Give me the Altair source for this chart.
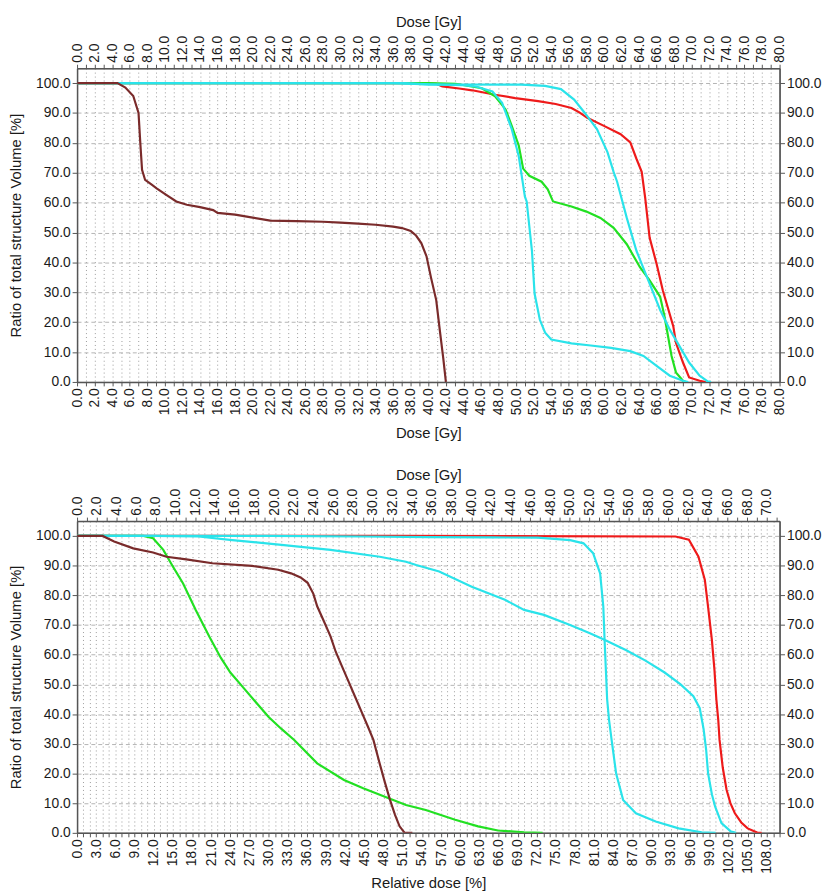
import altair as alt
import pandas as pd

# ---------------- Top panel: dose in Gy ----------------
brown_top_x = [0, 4.6, 5.5, 6.4, 7.0, 7.2, 7.4, 7.75, 8.5, 9.1, 10.2, 11.3, 12.5, 14, 15.5, 16, 18, 20, 22, 25, 28, 30, 32, 34, 36, 37, 38, 38.6, 39.2, 39.8, 40.3, 40.9, 41.3, 41.7, 42.0]
brown_top_y = [100, 100, 98.5, 95.7, 90, 80, 71, 67.6, 66, 64.7, 62.5, 60.4, 59.3, 58.5, 57.5, 56.6, 56, 55, 54, 53.8, 53.6, 53.3, 53, 52.6, 52, 51.5, 50.5, 49, 46.5, 42, 35, 27.4, 17.5, 8, 0]

red_top_x = [0, 38.5, 40.9, 41.6, 43.5, 45.0, 47.6, 49.9, 52.5, 54.5, 56.3, 57.2, 58.1, 60.0, 61.9, 63.0, 63.7, 64.3, 64.7, 65.2, 66.0, 66.7, 67.9, 68.2, 69.0, 69.7, 70.9, 71.6]
red_top_y = [100, 100, 99.8, 98.9, 98.2, 97.6, 96.1, 95.0, 94.0, 93.0, 91.7, 90.2, 88.4, 85.7, 82.9, 80.2, 74.7, 70.3, 61.5, 48.3, 39.5, 30.7, 18.6, 13.1, 6.5, 1.5, 0.4, 0]

green_top_x = [0, 40, 43.1, 46.1, 47.6, 48.8, 49.5, 50.3, 50.8, 51.5, 52.9, 53.6, 54.2, 56.3, 58, 59.6, 61.1, 62.6, 64.1, 65.2, 66.4, 66.9, 67.3, 67.7, 68.2, 69.0, 69.3]
green_top_y = [100, 100, 99.8, 98.3, 95.6, 91.2, 85.7, 79.1, 71.4, 69, 67, 64.5, 60.4, 58.7, 57, 54.9, 51.6, 46.1, 38.4, 34, 28.5, 21.9, 15.3, 8.7, 3.2, 0.4, 0]

cyan1_top_x = [0, 37, 40, 44, 45.5, 47.3, 48.4, 49.5, 50.3, 51.0, 51.2, 51.8, 52.1, 52.7, 53.3, 54.0, 56.3, 58.5, 60.8, 63.0, 64.5, 66.0, 67.5, 69.0, 69.6]
cyan1_top_y = [100, 100, 99.6, 99.3, 98.8, 97.2, 93.4, 84.6, 75.5, 62, 60.4, 43.9, 29.6, 20.8, 16.5, 14.2, 12.9, 12.2, 11.4, 10.3, 8.7, 5.4, 2.1, 0.4, 0]

cyan2_top_x = [0, 36, 40, 50.6, 53.3, 55.1, 56.6, 57.8, 59.2, 60.4, 61.1, 61.5, 62.1, 62.6, 63.7, 65.2, 66.4, 67.5, 68.6, 69.7, 70.9, 71.8, 72.2]
cyan2_top_y = [100, 100, 99.6, 99.5, 99.1, 98.0, 94.5, 90.1, 84.6, 76.9, 70.3, 67, 60.4, 54.9, 43.9, 32.9, 24.1, 17.5, 12, 6.5, 2.1, 0.2, 0]

# ---------------- Bottom panel: relative dose in % ----------------
brown_bot_x = [0, 4.0, 5.8, 8.8, 11.9, 14.0, 17.1, 21.2, 27.4, 31.5, 33.5, 35.0, 36.1, 37.0, 37.6, 38.7, 39.7, 40.5, 41.5, 42.5, 43.5, 44.5, 45.5, 46.4, 47.3, 48.2, 49.0, 49.8, 50.5, 51.3, 52.5]
brown_bot_y = [100, 100, 98.1, 95.8, 94.4, 93, 92.1, 90.8, 89.9, 88.6, 87.4, 86, 84.2, 80.5, 76.3, 71, 66.1, 61, 56, 51, 46, 41, 36, 31.3, 24, 17, 11.1, 6, 2.2, 0, 0]

green_bot_x = [0, 10.4, 11.9, 13.5, 15.0, 16.6, 18.6, 20.7, 22.5, 24, 26, 28, 30, 32, 34.0, 37.6, 41.8, 44.8, 48.9, 51.5, 54.6, 59.2, 62.8, 65.9, 70.0, 72.9]
green_bot_y = [100, 100, 99.2, 95.3, 89.7, 84, 75, 66.1, 59, 54, 49, 44, 39, 35, 31.3, 23.4, 17.8, 15, 11.6, 9.4, 7.7, 4.4, 2.2, 0.8, 0.2, 0]

cyanA_bot_x = [0, 12, 19, 24.3, 32, 39.7, 47.4, 51.5, 53.1, 56.7, 61.8, 67.0, 70.0, 73.1, 77.2, 80.3, 82.4, 86, 89, 92, 94.5, 96.5, 97.5, 98.1, 98.5, 98.8, 99.4, 99.9, 100.9, 102.4, 103.2]
cyanA_bot_y = [100, 100, 99.8, 98.6, 97, 95.3, 93, 91.3, 90.2, 88, 82.9, 78.5, 75.1, 73.4, 70, 67.2, 65.2, 61.5, 58, 54, 50, 46, 42, 35, 28, 20.1, 13, 8.9, 3.3, 0.4, 0]

cyanB_bot_x = [0, 30, 45, 55, 65, 72.1, 77.2, 79.3, 80.8, 81.9, 82.4, 82.6, 82.8, 83.0, 83.3, 83.7, 84.4, 85.5, 87.5, 90.6, 94.2, 97.8, 100]
cyanB_bot_y = [100, 100, 99.8, 99.6, 99.5, 99.4, 98.6, 97.5, 94.2, 87.4, 76.2, 65, 55, 45, 38, 31.3, 20.1, 11.1, 6.6, 3.8, 1.5, 0.2, 0]

red_bot_x = [0, 50, 93.7, 95.8, 97.3, 98.3, 98.8, 99.4, 99.8, 100.1, 100.4, 100.6, 101.1, 101.7, 102.3, 103.0, 104.0, 105.0, 106.5, 107.2]
red_bot_y = [100, 100, 99.8, 98.7, 93, 85.2, 76.2, 65, 55, 45, 38, 31.3, 22, 14.5, 10, 6.6, 3.5, 1.5, 0.1, 0]

GY_PER_PCT = 0.648   # 100 % relative dose = 64.8 Gy

RED = "#ee1a1a"
GREEN = "#22e022"
CYAN = "#2ae3ea"
BROWN = "#7a2b2b"

FONT = "Liberation Sans"
Y_VALS = list(range(0, 101, 10))
Y_DOM = [0, 105]

left_axis = alt.Axis(values=Y_VALS, format=".1f", orient="left",
                     title="Ratio of total structure Volume [%]",
                     grid=True, gridDash=[4, 3], gridColor="#b4b4b4",
                     tickSize=5, labelPadding=2, titlePadding=12)
right_axis = alt.Axis(values=Y_VALS, format=".1f", orient="right", title=None,
                      grid=False, tickSize=5, labelPadding=2)


def x_axis(orient, vmax, step, title, grid, tpad):
    return alt.Axis(values=list(range(0, vmax + 1)), orient=orient,
                    labelExpr=f"datum.value % {step} == 0 ? format(datum.value, '.1f') : ''",
                    labelAngle=-90, title=title, grid=grid, gridDash=[1, 3],
                    gridColor="#9a9a9a", tickSize=4, labelPadding=2, titlePadding=tpad,
                    labelOverlap=False)


def panel(series, xdom, bottom_axis, top_axis, top_dom, top_scale, width, height):
    layers = []
    for xs, ys, color in series:
        df = pd.DataFrame({"x": xs, "y": ys, "i": list(range(len(xs)))})
        layers.append(
            alt.Chart(df).mark_line(color=color, strokeWidth=2.2, clip=True).encode(
                x=alt.X("x:Q", scale=alt.Scale(domain=xdom, nice=False, zero=False), axis=bottom_axis),
                y=alt.Y("y:Q", scale=alt.Scale(domain=Y_DOM, nice=False), axis=left_axis),
                order="i:Q",
            )
        )
    lines = alt.layer(*layers)
    xs, ys, _ = series[0]
    odf = pd.DataFrame({"g": [v * top_scale for v in xs], "y": ys})
    overlay = alt.Chart(odf).mark_line(opacity=0).encode(
        x=alt.X("g:Q", scale=alt.Scale(domain=top_dom, nice=False, zero=False), axis=top_axis),
        y=alt.Y("y:Q", scale=alt.Scale(domain=Y_DOM, nice=False), axis=right_axis),
    )
    return alt.layer(lines, overlay).resolve_scale(x="independent", y="independent").properties(
        width=width, height=height)


top_series = [
    (red_top_x, red_top_y, RED),
    (green_top_x, green_top_y, GREEN),
    (cyan2_top_x, cyan2_top_y, CYAN),
    (cyan1_top_x, cyan1_top_y, CYAN),
    (brown_top_x, brown_top_y, BROWN),
]
bot_series = [
    (red_bot_x, red_bot_y, RED),
    (green_bot_x, green_bot_y, GREEN),
    (cyanB_bot_x, cyanB_bot_y, CYAN),
    (cyanA_bot_x, cyanA_bot_y, CYAN),
    (brown_bot_x, brown_bot_y, BROWN),
]

top = panel(top_series, [0, 80],
            x_axis("bottom", 80, 2, "Dose [Gy]", True, 11),
            x_axis("top", 80, 2, "Dose [Gy]", False, 6),
            [0, 80], 1.0, 712, 318)

bottom = panel(bot_series, [0, 110],
               x_axis("bottom", 110, 3, "Relative dose [%]", True, 2),
               x_axis("top", 71, 2, "Dose [Gy]", False, 6),
               [0, 110 * GY_PER_PCT], GY_PER_PCT, 712, 316)

chart = alt.vconcat(top, bottom, spacing=26).properties(
    padding={"left": 0, "top": 0, "right": 0, "bottom": 0},
    background="white",
).configure_axis(
    labelFont=FONT, titleFont=FONT, labelFontSize=14, titleFontSize=15,
    titleFontWeight="normal", labelColor="#1a1a1a", titleColor="#1a1a1a",
    domainColor="#555555", tickColor="#555555", domainWidth=1.5,
).configure_view(stroke="#555555")

chart.save("out.html", embed_options={"renderer": "svg", "actions": False})
